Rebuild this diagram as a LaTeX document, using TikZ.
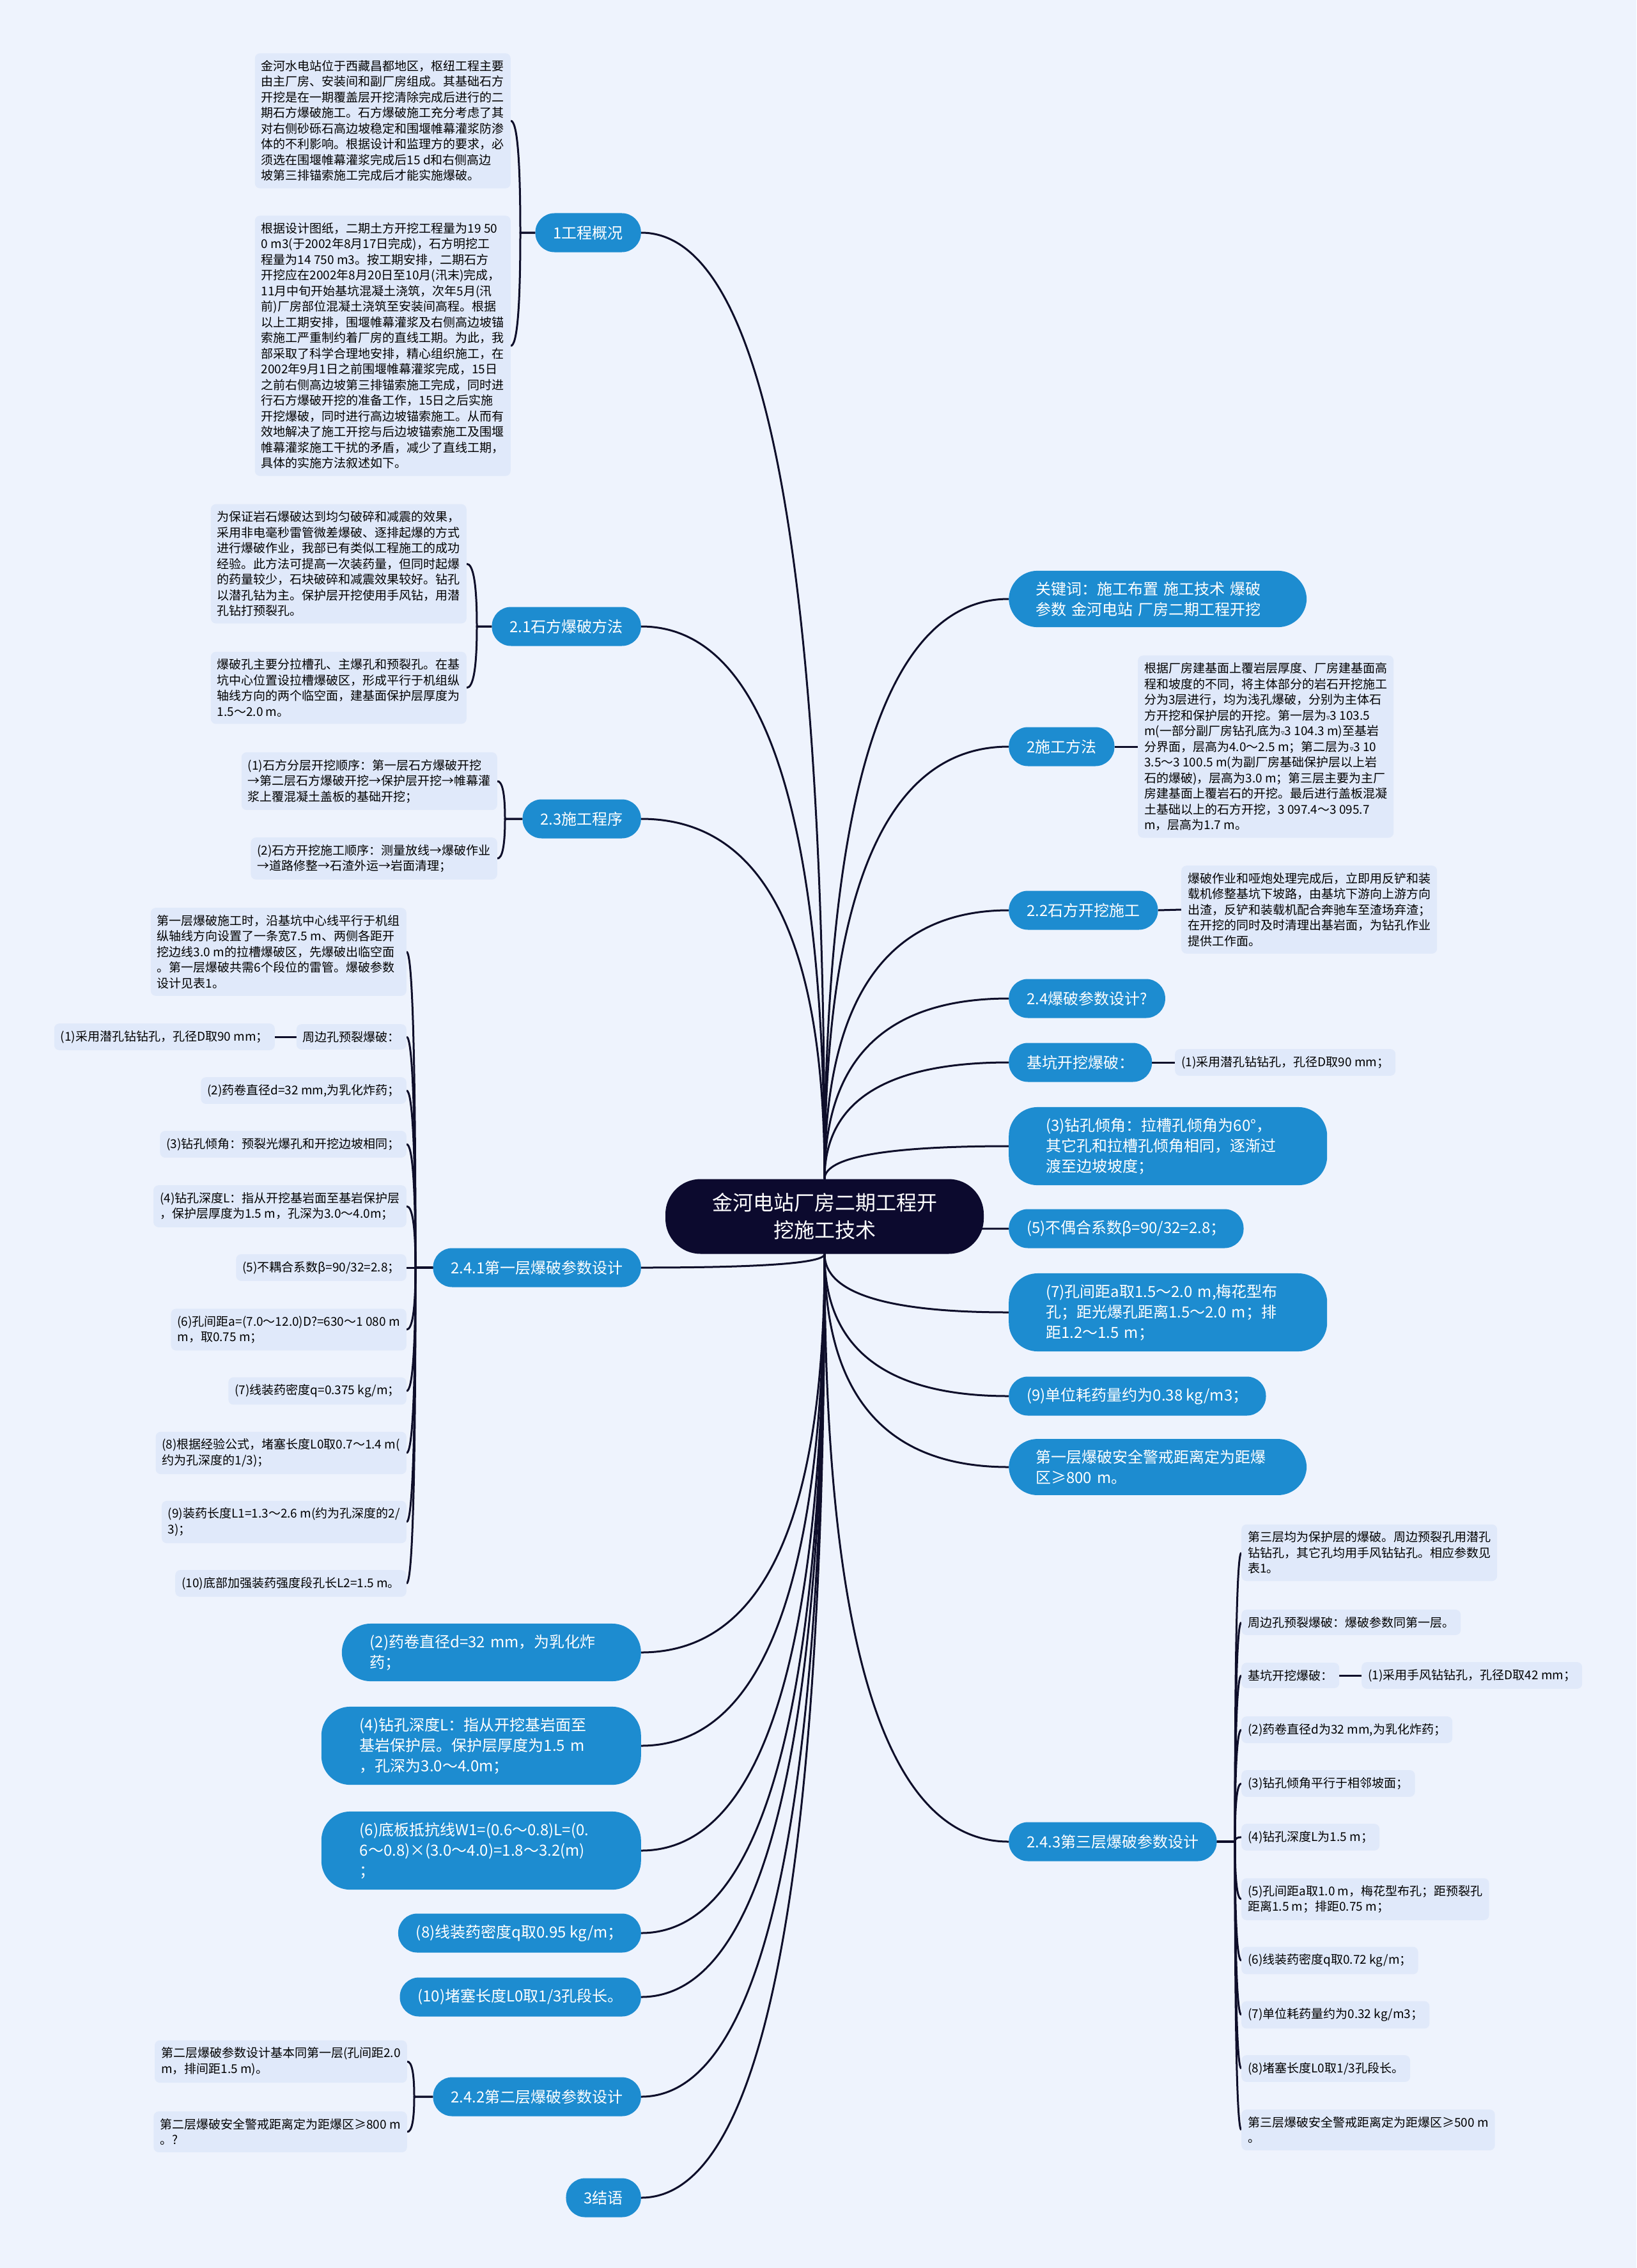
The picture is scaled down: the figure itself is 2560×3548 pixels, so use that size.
\documentclass[tikz,border=0pt]{standalone}
\usepackage{fontspec}
\setmainfont{Noto Sans CJK SC}
\newfontfamily\symf{DejaVu Sans}
\usetikzlibrary{calc}
\pgfdeclarelayer{back}
\pgfsetlayers{back,main}
\definecolor{bgc}{RGB}{238,243,253}
\definecolor{leafc}{RGB}{224,233,250}
\definecolor{brc}{RGB}{29,140,208}
\definecolor{ctrc}{RGB}{12,10,46}
\definecolor{lnc}{RGB}{14,14,42}
\newcommand{\tri}{{\symf\fontsize{11}{11}\selectfont ▿}}
% quadratic-like curve: start vertical at #1, end horizontal at #2
\newcommand{\mc}[2]{\draw[conn] (#1) .. controls ($(#1)!0.6667!(#1 |- #2)$) and ($(#2)!0.6667!(#1 |- #2)$) .. (#2);}
% branch -> turning point -> leaf
\newcommand{\lk}[3]{\draw[conn] (#1) -- (#2) .. controls ($(#2)!0.6667!(#2 |- #3)$) and ($(#3)!0.6667!(#2 |- #3)$) .. (#3);}
\begin{document}
\begin{tikzpicture}[x=1pt, y=-1pt,
  leaf/.style={fill=leafc, rounded corners=8pt, inner xsep=10pt, inner ysep=11pt, align=left, font=\fontsize{19}{24.5}\selectfont, text=black},
  br/.style={fill=brc, rounded corners=30pt, inner xsep=28pt, inner ysep=17pt, minimum height=61pt, align=left, font=\fontsize{24}{32}\selectfont, text=white},
  mbr/.style={br, rounded corners=45pt, text width=#1},
  ctr/.style={fill=ctrc, rounded corners=55pt, minimum width=498pt, minimum height=117pt, align=center, font=\fontsize{32}{43}\selectfont, text=white},
  conn/.style={draw=lnc, line width=3pt}]

% center
\node[ctr] (c0) at (1290,1903) {金河电站厂房二期工程开\\挖施工技术};

% left branches
\node[br, anchor=east] (b1) at (1003,364) {1工程概况};
\node[br, anchor=east] (b2) at (1003,980) {2.1石方爆破方法};
\node[br, anchor=east] (b3) at (1003,1281) {2.3施工程序};
\node[br, anchor=east] (b4) at (1003,1983) {2.4.1第一层爆破参数设计};
\node[mbr=380pt, inner xsep=44pt, anchor=east] (b5) at (1003,2585) {(2)药卷直径d=32 mm，为乳化炸\\药；};
\node[mbr=380pt, inner xsep=60pt, anchor=east] (b6) at (1003,2731) {(4)钻孔深度L：指从开挖基岩面至\\基岩保护层。保护层厚度为1.5 m\\，孔深为3.0～4.0m；};
\node[mbr=380pt, inner xsep=60pt, anchor=east] (b7) at (1003,2895) {(6)底板抵抗线W1=(0.6～0.8)L=(0.\\6～0.8)×(3.0～4.0)=1.8～3.2(m)\\；};
\node[br, anchor=east] (b8) at (1003,3024) {(8)线装药密度q取0.95 kg/m；};
\node[br, anchor=east] (b9) at (1003,3124) {(10)堵塞长度L0取1/3孔段长。};
\node[br, anchor=east] (b10) at (1003,3280) {2.4.2第二层爆破参数设计};
\node[br, anchor=east] (b11) at (1003,3438) {3结语};

% right branches
\node[mbr=382pt, inner xsep=42pt, anchor=west] (r1) at (1578,937) {关键词：施工布置 施工技术 爆破\\参数 金河电站 厂房二期工程开挖};
\node[br, anchor=west] (r2) at (1578,1168) {2施工方法};
\node[br, anchor=west] (r3) at (1578,1424) {2.2石方开挖施工};
\node[br, anchor=west] (r4) at (1578,1562) {2.4爆破参数设计?};
\node[br, anchor=west] (r5) at (1578,1662) {基坑开挖爆破：};
\node[mbr=382pt, inner xsep=58pt, anchor=west] (r6) at (1578,1793) {(3)钻孔倾角：拉槽孔倾角为60°，\\其它孔和拉槽孔倾角相同，逐渐过\\渡至边坡坡度；};
\node[br, anchor=west] (r7) at (1578,1922) {(5)不偶合系数β=90/32=2.8；};
\node[mbr=382pt, inner xsep=58pt, anchor=west] (r8) at (1578,2053) {(7)孔间距a取1.5～2.0 m,梅花型布\\孔；距光爆孔距离1.5～2.0 m；排\\距1.2～1.5 m；};
\node[br, anchor=west] (r9) at (1578,2184) {(9)单位耗药量约为0.38 kg/m3；};
\node[mbr=382pt, inner xsep=42pt, anchor=west] (r10) at (1578,2295) {第一层爆破安全警戒距离定为距爆\\区≥800 m。};
\node[br, anchor=west] (r11) at (1578,2881) {2.4.3第三层爆破参数设计};

% leaves of 1
\node[leaf, anchor=east] (l1a) at (799,189) {金河水电站位于西藏昌都地区，枢纽工程主要\\由主厂房、安装间和副厂房组成。其基础石方\\开挖是在一期覆盖层开挖清除完成后进行的二\\期石方爆破施工。石方爆破施工充分考虑了其\\对右侧砂砾石高边坡稳定和围堰帷幕灌浆防渗\\体的不利影响。根据设计和监理方的要求，必\\须选在围堰帷幕灌浆完成后15 d和右侧高边\\坡第三排锚索施工完成后才能实施爆破。};
\node[leaf, anchor=east] (l1b) at (799,541) {根据设计图纸，二期土方开挖工程量为19 50\\0 m3(于2002年8月17日完成)，石方明挖工\\程量为14 750 m3。按工期安排，二期石方\\开挖应在2002年8月20日至10月(汛末)完成，\\11月中旬开始基坑混凝土浇筑，次年5月(汛\\前)厂房部位混凝土浇筑至安装间高程。根据\\以上工期安排，围堰帷幕灌浆及右侧高边坡锚\\索施工严重制约着厂房的直线工期。为此，我\\部采取了科学合理地安排，精心组织施工，在\\2002年9月1日之前围堰帷幕灌浆完成，15日\\之前右侧高边坡第三排锚索施工完成，同时进\\行石方爆破开挖的准备工作，15日之后实施\\开挖爆破，同时进行高边坡锚索施工。从而有\\效地解决了施工开挖与后边坡锚索施工及围堰\\帷幕灌浆施工干扰的矛盾，减少了直线工期，\\具体的实施方法叙述如下。};

% leaves of 2.1
\node[leaf, anchor=east] (l2a) at (730,882) {为保证岩石爆破达到均匀破碎和减震的效果，\\采用非电毫秒雷管微差爆破、逐排起爆的方式\\进行爆破作业，我部已有类似工程施工的成功\\经验。此方法可提高一次装药量，但同时起爆\\的药量较少，石块破碎和减震效果较好。钻孔\\以潜孔钻为主。保护层开挖使用手风钻，用潜\\孔钻打预裂孔。};
\node[leaf, anchor=east] (l2b) at (730,1076) {爆破孔主要分拉槽孔、主爆孔和预裂孔。在基\\坑中心位置设拉槽爆破区，形成平行于机组纵\\轴线方向的两个临空面，建基面保护层厚度为\\1.5～2.0 m。};

% leaves of 2.3
\node[leaf, anchor=east] (l3a) at (778,1222) {(1)石方分层开挖顺序：第一层石方爆破开挖\\→第二层石方爆破开挖→保护层开挖→帷幕灌\\浆上覆混凝土盖板的基础开挖；};
\node[leaf, anchor=east] (l3b) at (778,1343) {(2)石方开挖施工顺序：测量放线→爆破作业\\→道路修整→石渣外运→岩面清理；};

% leaves of 2.4.1
\node[leaf, anchor=east] (l4a) at (636,1489) {第一层爆破施工时，沿基坑中心线平行于机组\\纵轴线方向设置了一条宽7.5 m、两侧各距开\\挖边线3.0 m的拉槽爆破区，先爆破出临空面\\。第一层爆破共需6个段位的雷管。爆破参数\\设计见表1。};
\node[leaf, anchor=east] (l4b) at (636,1622) {周边孔预裂爆破：};
\node[leaf, anchor=east] (l4b1) at (430,1622) {(1)采用潜孔钻钻孔，孔径D取90 mm；};
\node[leaf, anchor=east] (l4c) at (636,1706) {(2)药卷直径d=32 mm,为乳化炸药；};
\node[leaf, anchor=east] (l4d) at (636,1790) {(3)钻孔倾角：预裂光爆孔和开挖边坡相同；};
\node[leaf, anchor=east] (l4e) at (636,1887) {(4)钻孔深度L：指从开挖基岩面至基岩保护层\\，保护层厚度为1.5 m，孔深为3.0～4.0m；};
\node[leaf, anchor=east] (l4f) at (636,1983) {(5)不耦合系数β=90/32=2.8；};
\node[leaf, anchor=east] (l4g) at (636,2080) {(6)孔间距a=(7.0～12.0)D?=630～1 080 m\\m，取0.75 m；};
\node[leaf, anchor=east] (l4h) at (636,2176) {(7)线装药密度q=0.375 kg/m；};
\node[leaf, anchor=east] (l4i) at (636,2273) {(8)根据经验公式，堵塞长度L0取0.7～1.4 m(\\约为孔深度的1/3)；};
\node[leaf, anchor=east] (l4j) at (636,2381) {(9)装药长度L1=1.3～2.6 m(约为孔深度的2/\\3)；};
\node[leaf, anchor=east] (l4k) at (636,2477) {(10)底部加强装药强度段孔长L2=1.5 m。};

% leaves of 2.4.2
\node[leaf, anchor=east] (l5a) at (637,3225) {第二层爆破参数设计基本同第一层(孔间距2.0\\ m，排间距1.5 m)。};
\node[leaf, anchor=east] (l5b) at (637,3335) {第二层爆破安全警戒距离定为距爆区≥800 m\\。?};

% right leaves
\node[leaf, anchor=west] (q2) at (1780,1168) {根据厂房建基面上覆岩层厚度、厂房建基面高\\程和坡度的不同，将主体部分的岩石开挖施工\\分为3层进行，均为浅孔爆破，分别为主体石\\方开挖和保护层的开挖。第一层为\tri 3 103.5\\m(一部分副厂房钻孔底为\tri 3 104.3 m)至基岩\\分界面，层高为4.0～2.5 m；第二层为\tri 3 10\\3.5～3 100.5 m(为副厂房基础保护层以上岩\\石的爆破)，层高为3.0 m；第三层主要为主厂\\房建基面上覆岩石的开挖。最后进行盖板混凝\\土基础以上的石方开挖，3 097.4～3 095.7\\m，层高为1.7 m。};
\node[leaf, anchor=west] (q3) at (1848,1423) {爆破作业和哑炮处理完成后，立即用反铲和装\\载机修整基坑下坡路，由基坑下游向上游方向\\出渣，反铲和装载机配合奔驰车至渣场弃渣；\\在开挖的同时及时清理出基岩面，为钻孔作业\\提供工作面。};
\node[leaf, anchor=west] (q5) at (1838,1662) {(1)采用潜孔钻钻孔，孔径D取90 mm；};

% leaves of 2.4.3
\node[leaf, anchor=west] (m1) at (1942,2429) {第三层均为保护层的爆破。周边预裂孔用潜孔\\钻钻孔，其它孔均用手风钻钻孔。相应参数见\\表1。};
\node[leaf, anchor=west] (m2) at (1942,2538) {周边孔预裂爆破：爆破参数同第一层。};
\node[leaf, anchor=west] (m3) at (1942,2621) {基坑开挖爆破：};
\node[leaf, anchor=west] (m3a) at (2130,2621) {(1)采用手风钻钻孔，孔径D取42 mm；};
\node[leaf, anchor=west] (m4) at (1942,2706) {(2)药卷直径d为32 mm,为乳化炸药；};
\node[leaf, anchor=west] (m5) at (1942,2790) {(3)钻孔倾角平行于相邻坡面；};
\node[leaf, anchor=west] (m6) at (1942,2874) {(4)钻孔深度L为1.5 m；};
\node[leaf, anchor=west] (m7) at (1942,2971) {(5)孔间距a取1.0 m，梅花型布孔；距预裂孔\\距离1.5 m；排距0.75 m；};
\node[leaf, anchor=west] (m8) at (1942,3067) {(6)线装药密度q取0.72 kg/m；};
\node[leaf, anchor=west] (m9) at (1942,3152) {(7)单位耗药量约为0.32 kg/m3；};
\node[leaf, anchor=west] (m10) at (1942,3236) {(8)堵塞长度L0取1/3孔段长。};
\node[leaf, anchor=west] (m11) at (1942,3332) {第三层爆破安全警戒距离定为距爆区≥500 m\\。};

% turning points of leaf connectors
\coordinate (t1) at (814,364);
\coordinate (t2) at (746,980);
\coordinate (t3) at (790,1281);
\coordinate (t4) at (650,1983);
\coordinate (t10) at (648,3280);
\coordinate (t11) at (1932,2881);

\begin{pgfonlayer}{back}
\path[use as bounding box, fill=bgc] (0,0) rectangle (2560,3548);
% main connectors
\foreach \n in {b1,b2,b3} {\mc{c0.north}{\n.east}}
\foreach \n in {b4,b5,b6,b7,b8,b9,b10,b11} {\mc{c0.south}{\n.east}}
\foreach \n in {r1,r2,r3,r4,r5,r6} {\mc{c0.north}{\n.west}}
\foreach \n in {r7,r8,r9,r10,r11} {\mc{c0.south}{\n.west}}
% leaf connectors
\foreach \n in {l1a,l1b} {\lk{b1.west}{t1}{\n.east}}
\foreach \n in {l2a,l2b} {\lk{b2.west}{t2}{\n.east}}
\foreach \n in {l3a,l3b} {\lk{b3.west}{t3}{\n.east}}
\foreach \n in {l4a,l4b,l4c,l4d,l4e,l4f,l4g,l4h,l4i,l4j,l4k} {\lk{b4.west}{t4}{\n.east}}
\foreach \n in {l5a,l5b} {\lk{b10.west}{t10}{\n.east}}
\foreach \n in {m1,m2,m3,m4,m5,m6,m7,m8,m9,m10,m11} {\lk{r11.east}{t11}{\n.west}}
\draw[conn] (l4b.west) -- (l4b1.east);
\draw[conn] (r2.east) -- (q2.west);
\draw[conn] (r3.east) -- (q3.west);
\draw[conn] (r5.east) -- (q5.west);
\draw[conn] (m3.east) -- (m3a.west);
\end{pgfonlayer}
\end{tikzpicture}
\end{document}
